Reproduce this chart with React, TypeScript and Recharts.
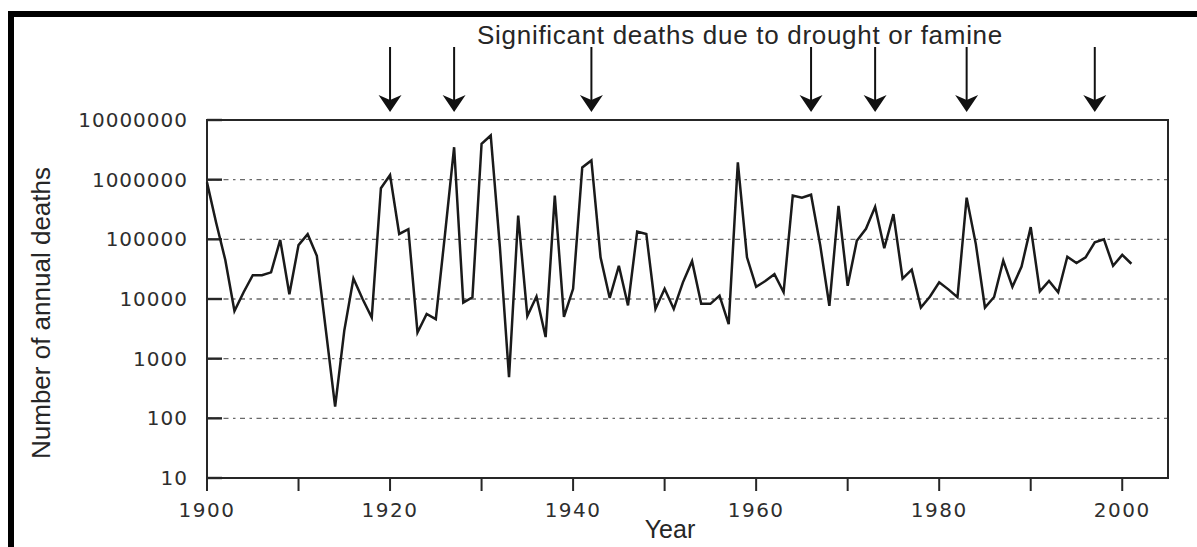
import {
  LineChart,
  Line,
  XAxis,
  YAxis,
  CartesianGrid,
  ReferenceLine,
  ReferenceArea,
} from "recharts";

// Annual deaths from drought / famine
const YEARS = [
  1900, 1901, 1902, 1903, 1904, 1905, 1906, 1907, 1908, 1909,
  1910, 1911, 1912, 1913, 1914, 1915, 1916, 1917, 1918, 1919,
  1920, 1921, 1922, 1923, 1924, 1925, 1926, 1927, 1928, 1929,
  1930, 1931, 1932, 1933, 1934, 1935, 1936, 1937, 1938, 1939,
  1940, 1941, 1942, 1943, 1944, 1945, 1946, 1947, 1948, 1949,
  1950, 1951, 1952, 1953, 1954, 1955, 1956, 1957, 1958, 1959,
  1960, 1961, 1962, 1963, 1964, 1965, 1966, 1967, 1968, 1969,
  1970, 1971, 1972, 1973, 1974, 1975, 1976, 1977, 1978, 1979,
  1980, 1981, 1982, 1983, 1984, 1985, 1986, 1987, 1988, 1989,
  1990, 1991, 1992, 1993, 1994, 1995, 1996, 1997, 1998, 1999,
  2000, 2001,
];

const DEATHS = [
  900000, 190000, 45000, 6300, 13000, 25000, 25000, 28000, 98000, 12000,
  80000, 122000, 53000, 2900, 157, 2950, 22000, 10000, 4900, 720000,
  1200000, 123000, 148000, 2750, 5600, 4600, 120000, 3500000, 8700, 10700,
  4000000, 5500000, 75000, 490, 250000, 5200, 11000, 2300, 540000, 5000,
  14800, 1600000, 2100000, 50000, 10400, 36000, 7800, 135000, 123000, 6800,
  14800, 6800, 19000, 43000, 8300, 8300, 11400, 3800, 1950000, 50000,
  16000, 20000, 26000, 13000, 540000, 500000, 560000, 80000, 7700, 365000,
  16600, 95000, 150000, 350000, 71000, 265000, 22000, 31000, 7200, 11000,
  19000, 14500, 10700, 500000, 84000, 7200, 10800, 44000, 16000, 35000,
  160000, 13400, 20000, 13000, 51000, 40000, 50000, 89000, 100000, 36000,
  55000, 39000,
];

const Y_TICKS = [10, 100, 1000, 10000, 100000, 1000000, 10000000];
const X_TICKS = [1900, 1910, 1920, 1930, 1940, 1950, 1960, 1970, 1980, 1990, 2000];
const X_LABELS = [1900, 1920, 1940, 1960, 1980, 2000];
const ARROW_YEARS = [1920, 1927, 1942, 1966, 1973, 1983, 1997];

const data = YEARS.map((year, i) => ({ year, deaths: DEATHS[i] }));

const INK = "#262626";

function YTick({ x, y, payload }: any) {
  return (
    <text
      x={x}
      y={y}
      textAnchor="end"
      dominantBaseline="central"
      fontFamily="DejaVu Sans"
      fontSize={20}
      letterSpacing={1}
      fill="#2e2e2e"
    >
      {payload.value}
    </text>
  );
}

function XTick({ x, y, payload }: any) {
  const v = payload.value;
  return (
    <g>
      <line x1={x} x2={x} y1={y} y2={y + 13} stroke={INK} strokeWidth={2} />
      {X_LABELS.includes(v) && (
        <text
          x={x}
          y={y + 39}
          textAnchor="middle"
          fontFamily="DejaVu Sans"
          fontSize={20}
          letterSpacing={1.5}
          fill="#2e2e2e"
        >
          {v}
        </text>
      )}
    </g>
  );
}

// dashed grid line with a short solid tick where it meets the left edge
function GridRow(props: any) {
  const { x1, x2, y1, y2 } = props;
  const left = Math.min(x1, x2);
  return (
    <g>
      <line
        x1={x1}
        x2={x2}
        y1={y1}
        y2={y2}
        stroke="#6a6a6a"
        strokeWidth={1.3}
        strokeDasharray="5 4.5 2.5 4.5"
      />
      <line x1={left} x2={left + 15} y1={y1} y2={y1} stroke={INK} strokeWidth={2.4} />
    </g>
  );
}

// arrow drawn above the plot, pointing down at the year
function Arrow(props: any) {
  const { x1, y1, y2 } = props;
  const top = Math.min(y1, y2);
  const tip = top - 8;
  return (
    <g>
      <line x1={x1} x2={x1} y1={top - 73} y2={tip - 12} stroke="#111" strokeWidth={2} />
      <polygon
        points={`${x1 - 11.5},${tip - 17} ${x1},${tip - 12} ${x1 + 11.5},${tip - 17} ${x1},${tip}`}
        fill="#111"
      />
    </g>
  );
}

export default function App() {
  return (
    <div
      style={{
        position: "absolute",
        left: 0,
        top: 0,
        width: 1197,
        height: 547,
        background: "#fff",
        overflow: "hidden",
      }}
    >
      {/* black frame along top and left */}
      <div
        style={{
          position: "absolute",
          left: 8,
          top: 11,
          width: 1189,
          height: 536,
          borderTop: "6px solid #000",
          borderLeft: "6px solid #000",
          boxSizing: "border-box",
        }}
      />
      <LineChart
        width={1197}
        height={547}
        data={data}
        margin={{ top: 120, right: 29, bottom: 0, left: 0 }}
        style={{ position: "absolute", left: 0, top: 0 }}
      >
        <CartesianGrid
          vertical={false}
          horizontal={(p: any) => <GridRow key={`row-${p.index}-${p.y1}`} {...p} />}
        />
        <XAxis
          dataKey="year"
          type="number"
          domain={[1900, 2005]}
          ticks={X_TICKS}
          interval={0}
          height={69}
          axisLine={false}
          tickLine={false}
          tickSize={0}
          tickMargin={0}
          tick={(p: any) => <XTick {...p} />}
        />
        <YAxis
          scale="log"
          domain={[10, 10000000]}
          ticks={Y_TICKS}
          interval={0}
          allowDataOverflow
          width={207}
          axisLine={false}
          tickLine={false}
          tickSize={0}
          tickMargin={19}
          tick={(p: any) => <YTick {...p} />}
        />
        <ReferenceArea
          x1={1900}
          x2={2005}
          y1={10}
          y2={10000000}
          fill="none"
          fillOpacity={0}
          stroke={INK}
          strokeWidth={2}
        />
        {ARROW_YEARS.map((yr) => (
          <ReferenceLine key={yr} x={yr} stroke="none" shape={(p: any) => <Arrow {...p} />} />
        ))}
        <Line
          type="linear"
          dataKey="deaths"
          stroke="#1a1a1a"
          strokeWidth={2.5}
          dot={false}
          isAnimationActive={false}
        />
      </LineChart>
      <svg
        width={1197}
        height={547}
        style={{ position: "absolute", left: 0, top: 0, pointerEvents: "none" }}
      >
        <text
          x={740}
          y={44}
          textAnchor="middle"
          fontFamily="Liberation Sans"
          fontSize={26}
          letterSpacing={0.7}
          fill="#262626"
        >
          Significant deaths due to drought or famine
        </text>
        <text
          transform="translate(50,313) rotate(-90)"
          textAnchor="middle"
          fontFamily="Liberation Sans"
          fontSize={26}
          fill="#262626"
        >
          Number of annual deaths
        </text>
        <text
          x={670}
          y={538}
          textAnchor="middle"
          fontFamily="Liberation Sans"
          fontSize={25}
          fill="#262626"
        >
          Year
        </text>
      </svg>
    </div>
  );
}
